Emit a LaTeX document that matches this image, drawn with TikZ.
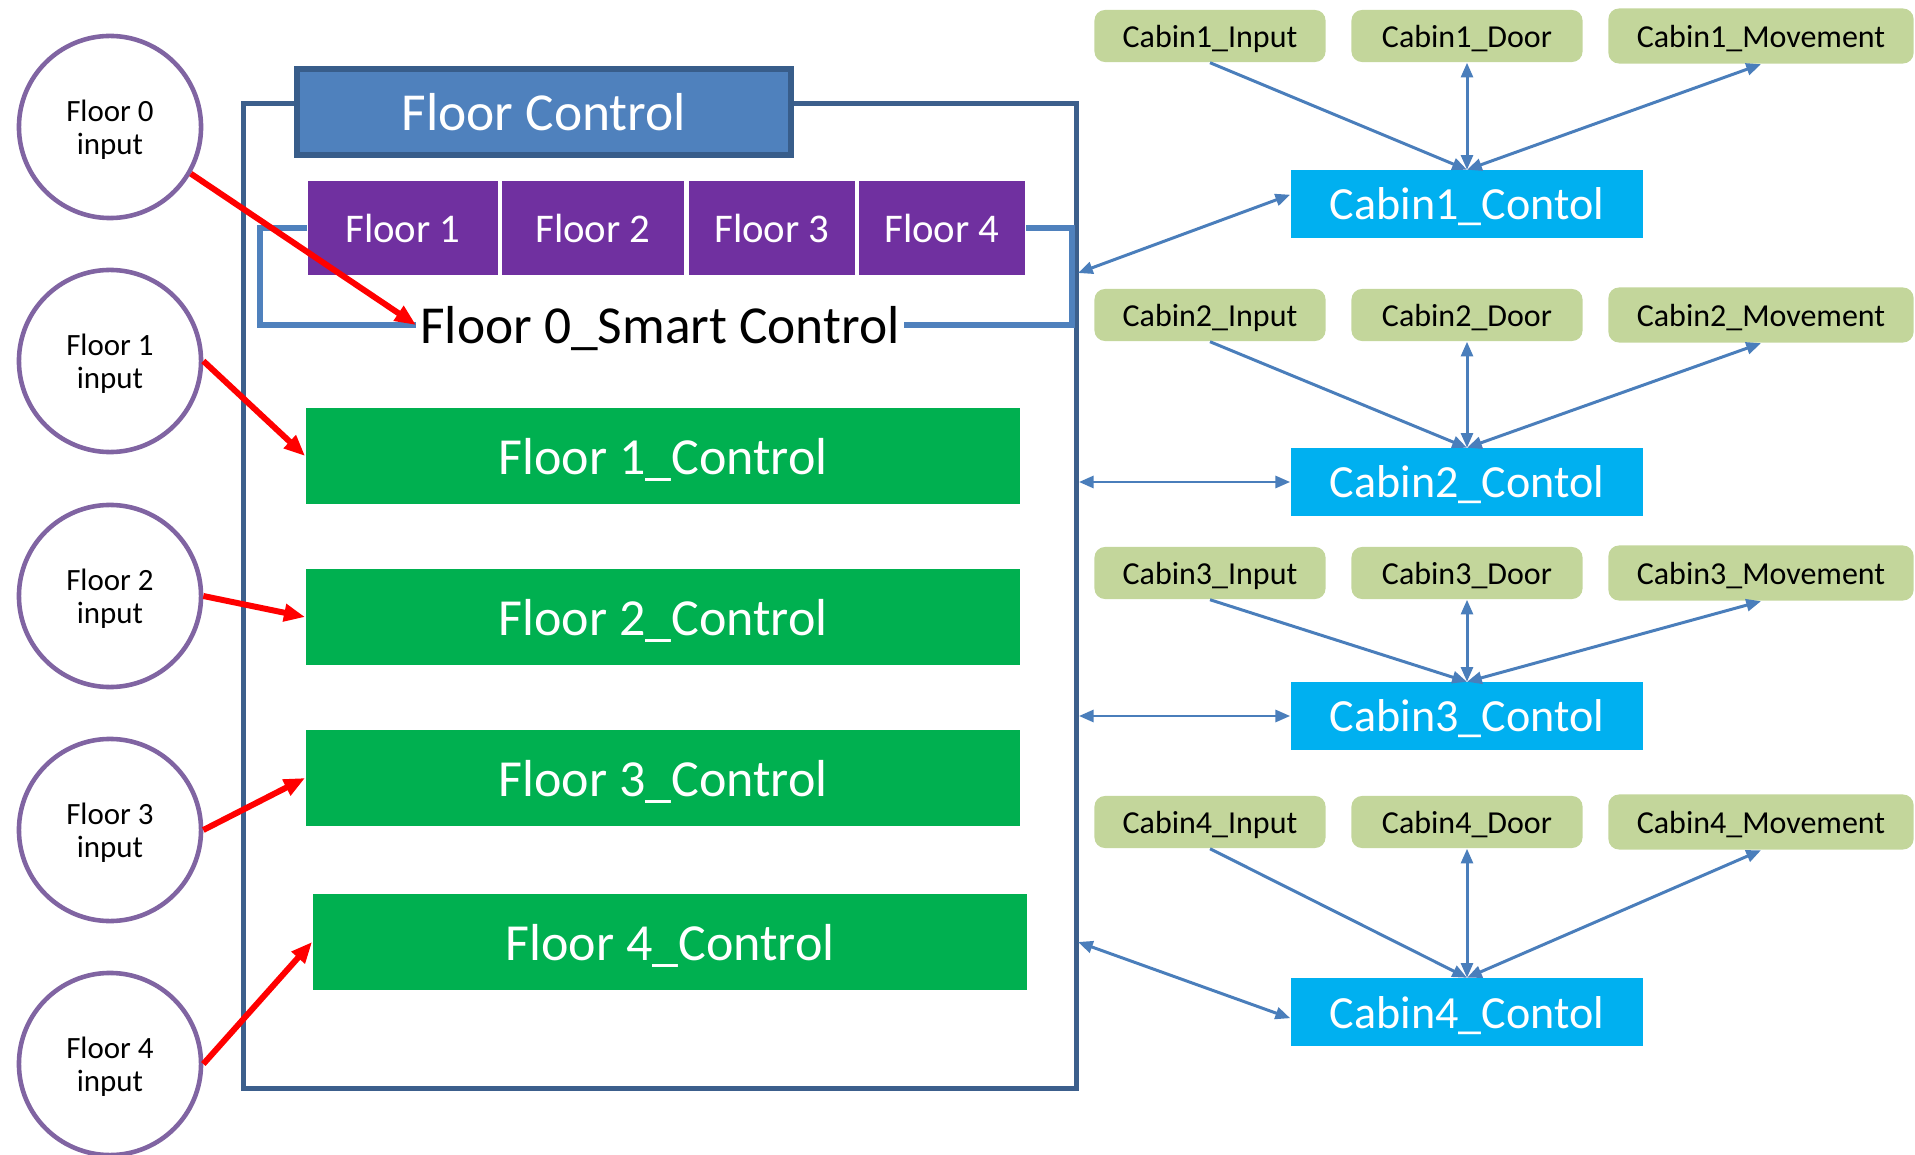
\documentclass[tikz,border=0pt]{standalone}
\usepackage{fontspec}
\setmainfont{Carlito}
\usetikzlibrary{arrows.meta}

\definecolor{framebl}{HTML}{3C5F8C}
\definecolor{headbl}{HTML}{4F81BD}
\definecolor{headln}{HTML}{385D8A}
\definecolor{floorpl}{HTML}{7030A0}
\definecolor{ctrlgr}{HTML}{00B050}
\definecolor{cabinbl}{HTML}{00B0F0}
\definecolor{partgr}{HTML}{C3D69B}
\definecolor{inputpl}{HTML}{8064A2}
\definecolor{arrowbl}{HTML}{4A7EBB}

\tikzset{
  floorin/.style={circle, draw=inputpl, line width=1.3pt, fill=white, minimum size=1.82cm, align=center, text depth=0pt, font=\fontsize{8.8}{9.3}\selectfont},
  headbox/.style={draw=headln, line width=1.9pt, fill=headbl, text=white, minimum width=4.94cm, minimum height=0.86cm, text depth=0pt, font=\fontsize{15.2}{18}\selectfont},
  floorbtn/.style={fill=floorpl, text=white, minimum height=0.94cm, font=\fontsize{11.6}{14}\selectfont},
  ctrlbox/.style={fill=ctrlgr, text=white, minimum width=7.14cm, minimum height=0.95cm, text depth=0pt, font=\fontsize{14.8}{18}\selectfont},
  cabinbox/.style={fill=cabinbl, text=white, minimum width=3.52cm, minimum height=0.67cm, text depth=0pt, font=\fontsize{13.1}{16}\selectfont},
  partbox/.style={fill=partgr, rounded corners=3pt, minimum width=2.31cm, minimum height=0.52cm, text depth=0pt, font=\fontsize{9.1}{11}\selectfont},
  redarr/.style={draw=red, line width=1.7pt, -{Triangle[length=6pt,width=4.8pt]}},
  bluearr/.style={draw=arrowbl, line width=0.85pt, >={Triangle[length=4.2pt,width=3.4pt]}},
  bracket/.style={draw=headbl, line width=1.8pt}
}

\begin{document}
\begin{tikzpicture}[x=0.01cm, y=-0.01cm]
        \useasboundingbox (0,0) rectangle (1915,1155);

        \node[draw=framebl, line width=1.5pt, minimum width=8.32cm, minimum height=9.84cm] (frame) at (660,596) {};
        \node[headbox] (head) at (544,112) {Floor Control};

        \node[floorbtn, minimum width=1.9cm] (fl1) at (403,228) {Floor 1};
        \node[floorbtn, minimum width=1.82cm] (fl2) at (593,228) {Floor 2};
        \node[floorbtn, minimum width=1.66cm] (fl3) at (772,228) {Floor 3};
        \node[floorbtn, minimum width=1.66cm] (fl4) at (942,228) {Floor 4};
        \node[inner sep=1pt, text depth=0pt, font=\fontsize{15.2}{18}\selectfont] (smart) at (660,325) {Floor 0\_Smart Control};
        \draw[bracket] (fl1.west) -- ++(-47,0) |- (smart.west);
        \draw[bracket] (fl4.east) -- ++(46,0) |- (smart.east);

        \node[ctrlbox] (g1) at (663,456) {Floor 1\_Control};
        \node[ctrlbox] (g2) at (663,617) {Floor 2\_Control};
        \node[ctrlbox] (g3) at (663,778) {Floor 3\_Control};
        \node[ctrlbox] (g4) at (670,942) {Floor 4\_Control};

        \node[floorin] (c0) at (110,127) {Floor 0\\input};
        \node[floorin] (c1) at (110,361) {Floor 1\\input};
        \node[floorin] (c2) at (110,596) {Floor 2\\input};
        \node[floorin] (c3) at (110,830) {Floor 3\\input};
        \node[floorin] (c4) at (110,1064) {Floor 4\\input};

        \draw[redarr] (c0.-30) -- (smart.west);
        \draw[redarr] (c1.east) -- (g1.west);
        \draw[redarr] (c2.east) -- (g2.west);
        \draw[redarr] (c3.east) -- (g3.west);
        \draw[redarr] (c4.east) -- (g4.west);

        \node[partbox] (in1) at (1210,36) {Cabin1\_Input};
        \node[partbox] (door1) at (1467,36) {Cabin1\_Door};
        \node[partbox, minimum width=3.05cm, minimum height=0.55cm] (mov1) at (1761,36) {Cabin1\_Movement};
        \node[cabinbox] (cab1) at (1467,204) {Cabin1\_Contol};

        \node[partbox] (in2) at (1210,315) {Cabin2\_Input};
        \node[partbox] (door2) at (1467,315) {Cabin2\_Door};
        \node[partbox, minimum width=3.05cm, minimum height=0.55cm] (mov2) at (1761,315) {Cabin2\_Movement};
        \node[cabinbox] (cab2) at (1467,482) {Cabin2\_Contol};

        \node[partbox] (in3) at (1210,573) {Cabin3\_Input};
        \node[partbox] (door3) at (1467,573) {Cabin3\_Door};
        \node[partbox, minimum width=3.05cm, minimum height=0.55cm] (mov3) at (1761,573) {Cabin3\_Movement};
        \node[cabinbox] (cab3) at (1467,716) {Cabin3\_Contol};

        \node[partbox] (in4) at (1210,822) {Cabin4\_Input};
        \node[partbox] (door4) at (1467,822) {Cabin4\_Door};
        \node[partbox, minimum width=3.05cm, minimum height=0.55cm] (mov4) at (1761,822) {Cabin4\_Movement};
        \node[cabinbox] (cab4) at (1467,1012) {Cabin4\_Contol};

        \draw[bluearr, ->] (in1.south) -- (cab1.north);
        \draw[bluearr, <->] (door1.south) -- (cab1.north);
        \draw[bluearr, <->] (cab1.north) -- (mov1.south);
        \draw[bluearr, ->] (in2.south) -- (cab2.north);
        \draw[bluearr, <->] (door2.south) -- (cab2.north);
        \draw[bluearr, <->] (cab2.north) -- (mov2.south);
        \draw[bluearr, ->] (in3.south) -- (cab3.north);
        \draw[bluearr, <->] (door3.south) -- (cab3.north);
        \draw[bluearr, <->] (cab3.north) -- (mov3.south);
        \draw[bluearr, ->] (in4.south) -- (cab4.north);
        \draw[bluearr, <->] (door4.south) -- (cab4.north);
        \draw[bluearr, <->] (cab4.north) -- (mov4.south);

        \coordinate (fr1) at (1078,273);
        \coordinate (fr4) at (1078,942);
        \draw[bluearr, <->] (fr1) -- (cab1.177);
        \draw[bluearr, <->] (cab2.west -| frame.east) -- (cab2.west);
        \draw[bluearr, <->] (cab3.west -| frame.east) -- (cab3.west);
        \draw[bluearr, <->] (fr4) -- (cab4.182);
\end{tikzpicture}
\end{document}
